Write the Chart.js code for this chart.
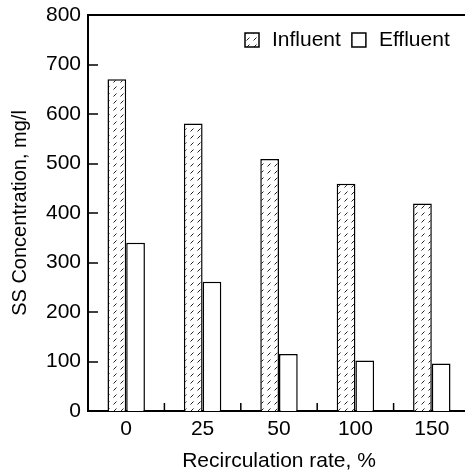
<!DOCTYPE html>
<html>
<head>
<meta charset="utf-8">
<script src="https://cdn.jsdelivr.net/npm/chart.js@4.4.1/dist/chart.umd.min.js"></script>
<style>
  html, body { margin: 0; padding: 0; background: #fff; overflow: hidden; width: 465px; height: 474px; }
  #wrap { width: 475px; height: 474px; }
</style>
</head>
<body>
<div id="wrap"><canvas id="c" width="475" height="474"></canvas></div>
<script>
const categories = ['0', '25', '50', '100', '150'];
const influent = [670, 581, 509, 459, 419];
const effluent = [340, 261, 115, 102, 96];
const seriesNames = ['Influent', 'Effluent'];
const xTitle = 'Recirculation rate, %';
const yTitle = 'SS Concentration, mg/l';
const yMin = 0, yMax = 800, yStep = 100;

const FONT = '"Liberation Sans", Arial, Helvetica, sans-serif';
const FS = 21;

// hatch pattern
const tile = document.createElement('canvas');
tile.width = 7; tile.height = 7;
const tc = tile.getContext('2d');
tc.fillStyle = '#fff'; tc.fillRect(0, 0, 7, 7);
tc.strokeStyle = '#222'; tc.lineWidth = 1;
tc.beginPath(); tc.moveTo(1.5, 5.5); tc.lineTo(4.5, 2.5); tc.stroke();
const hatch = document.getElementById('c').getContext('2d').createPattern(tile, 'repeat');

const decor = {
  id: 'decor',
  afterDraw(chart) {
    const { ctx, chartArea: a, scales: { x, y } } = chart;
    ctx.save();
    ctx.strokeStyle = '#000';
    ctx.lineWidth = 2;
    ctx.beginPath();
    ctx.moveTo(a.left - 1, a.top);
    ctx.lineTo(a.right, a.top);
    ctx.stroke();
    ctx.lineWidth = 1.5;
    ctx.beginPath();
    y.ticks.forEach((t, i) => {
      const py = Math.round(y.getPixelForTick(i));
      ctx.moveTo(a.left, py); ctx.lineTo(a.left + 10, py);
    });
    for (let i = 0; i < x.ticks.length; i++) {
      const px = x.getPixelForTick(i) + (x.getPixelForTick(1) - x.getPixelForTick(0)) / 2;
      ctx.moveTo(px, a.bottom); ctx.lineTo(px, a.bottom - 8);
    }
    ctx.stroke();

    // legend
    ctx.font = FS + 'px ' + FONT;
    ctx.textBaseline = 'middle';
    let lx = 245;
    const ly = 33, bs = 14;
    chart.data.datasets.forEach(ds => {
      ctx.fillStyle = ds.backgroundColor;
      ctx.fillRect(lx, ly, bs, bs);
      ctx.strokeStyle = '#000';
      ctx.lineWidth = 1.5;
      ctx.strokeRect(lx, ly, bs, bs);
      ctx.fillStyle = '#000';
      ctx.fillText(ds.label, lx + bs + 13, ly + bs / 2 + 0.5);
      lx += bs + 13 + ctx.measureText(ds.label).width + 11;
    });
    ctx.restore();
  }
};

new Chart(document.getElementById('c'), {
  type: 'bar',
  data: {
    labels: categories,
    datasets: [
      { label: seriesNames[0], data: influent, backgroundColor: hatch, borderColor: '#000', borderWidth: 1.5 },
      { label: seriesNames[1], data: effluent, backgroundColor: '#fff', borderColor: '#000', borderWidth: 1.5 }
    ]
  },
  options: {
    responsive: false,
    animation: false,
    devicePixelRatio: 1,
    categoryPercentage: 0.49,
    barPercentage: 1,
    layout: { padding: { top: 15, right: 5, left: 0, bottom: 0 } },
    plugins: { legend: { display: false }, tooltip: { enabled: false } },
    scales: {
      x: {
        grid: { display: false, drawTicks: false },
        border: { display: true, color: '#000', width: 2 },
        ticks: { color: '#000', font: { family: FONT, size: FS }, padding: 6, maxRotation: 0 },
        title: { display: true, text: xTitle, color: '#000', font: { family: FONT, size: FS }, padding: { top: 0, bottom: 0 } },
        afterFit(s) { s.height = 63; s.paddingLeft = 0; s.paddingRight = 0; }
      },
      y: {
        min: yMin, max: yMax,
        grid: { display: false, drawTicks: false },
        border: { display: true, color: '#000', width: 2 },
        ticks: { stepSize: yStep, color: '#000', font: { family: FONT, size: FS }, padding: 7 },
        title: { display: true, text: yTitle, color: '#000', font: { family: FONT, size: 20 }, padding: { top: 8, bottom: 0 } },
        afterFit(s) { s.width = 88; s.paddingTop = 0; s.paddingBottom = 0; }
      }
    }
  },
  plugins: [decor]
});
</script>
</body>
</html>
